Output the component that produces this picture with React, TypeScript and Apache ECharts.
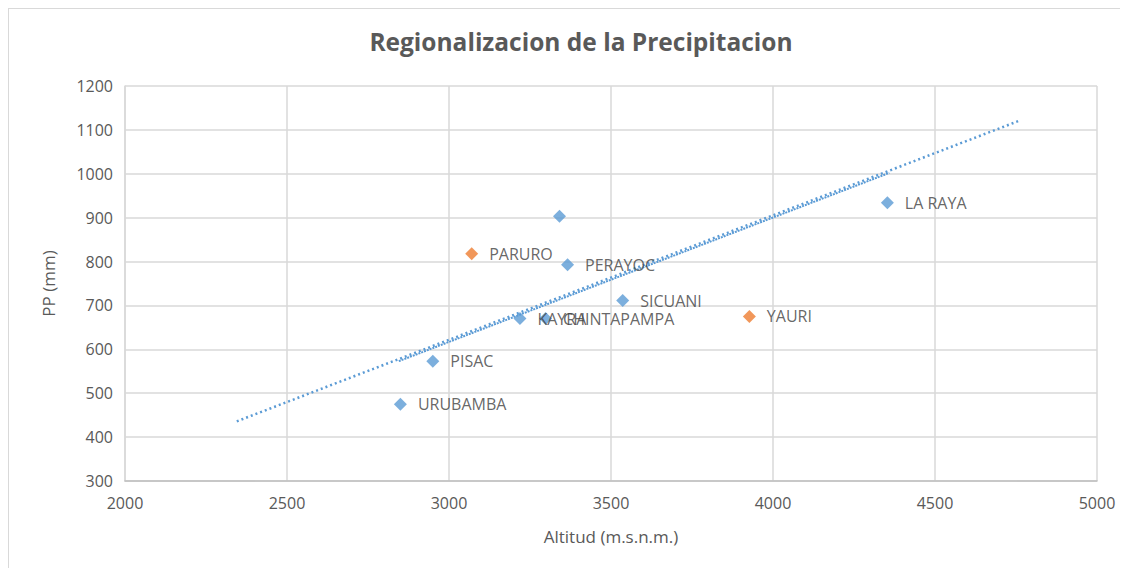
import React, { useEffect, useRef } from "react";
import * as echarts from "echarts";

const blueNames = ["URUBAMBA", "PISAC", "KAYRA", "CHINTAPAMPA", "", "PERAYOC", "SICUANI", "LA RAYA"];
const blueAlt = [2850, 2950, 3219, 3298, 3341, 3366, 3536, 4353];
const bluePP = [475, 573, 670, 670, 903, 793, 711, 934];

const orangeNames = ["PARURO", "YAURI"];
const orangeAlt = [3070, 3927];
const orangePP = [818, 675];

const trendAlt = [2345, 4757];
const trendPP = [436, 1120];
const trendCoreAlt = [2845, 4359];
const trendCorePP = [573, 1002];

const xTicks = { min: 2000, max: 5000, interval: 500 };
const yTicks = { min: 300, max: 1200, interval: 100 };

const FONT = "'Open Sans', 'Noto Sans', sans-serif";

export default function App() {
  const ref = useRef<HTMLDivElement>(null);
  useEffect(() => {
    if (!ref.current) return;
    const chart = echarts.init(ref.current, null, { renderer: "svg" });
    const label = {
      show: true,
      position: "right" as const,
      distance: 11,
      formatter: (p: any) => p.data.name,
      color: "#404040",
      fontSize: 16,
      lineHeight: 16,
      fontFamily: FONT,
    };
    chart.setOption({
      animation: false,
      backgroundColor: "#ffffff",
      title: {
        text: "Regionalizacion de la Precipitacion",
        left: 567,
        top: 15,
        textAlign: "center",
        textStyle: { color: "#595959", fontSize: 24.5, fontWeight: "bold", fontFamily: FONT },
      },
      grid: { left: 116, right: 31, top: 77, bottom: 87 },
      xAxis: {
        type: "value",
        min: xTicks.min,
        max: xTicks.max,
        interval: xTicks.interval,
        name: "Altitud (m.s.n.m.)",
        nameLocation: "middle",
        nameGap: 47,
        nameTextStyle: { color: "#595959", fontSize: 17, fontFamily: FONT },
        axisLine: { show: true, lineStyle: { color: "#bfbfbf", width: 1.5 } },
        axisTick: { show: false },
        axisLabel: { color: "#595959", fontSize: 16, fontFamily: FONT, margin: 14, formatter: (v: number) => String(v) },
        splitLine: { show: true, lineStyle: { color: "#d9d9d9", width: 1.5 } },
      },
      yAxis: {
        type: "value",
        min: yTicks.min,
        max: yTicks.max,
        interval: yTicks.interval,
        name: "PP (mm)",
        nameLocation: "middle",
        nameGap: 68,
        nameTextStyle: { color: "#595959", fontSize: 17, fontFamily: FONT },
        axisLine: { show: true, lineStyle: { color: "#d9d9d9", width: 1.5 } },
        axisTick: { show: false },
        axisLabel: { color: "#595959", fontSize: 16, fontFamily: FONT, margin: 12, formatter: (v: number) => String(v) },
        splitLine: { show: true, lineStyle: { color: "#d9d9d9", width: 1.5 } },
      },
      series: [
        {
          type: "line",
          data: trendAlt.map((x, i) => [x, trendPP[i]]),
          showSymbol: false,
          lineStyle: { color: "#5B9BD5", width: 2.5, type: [2, 3] },
          z: 1,
        },
        {
          type: "line",
          data: trendCoreAlt.map((x, i) => [x, trendCorePP[i]]),
          showSymbol: false,
          lineStyle: { color: "#5B9BD5", width: 2, type: [2, 1] },
          z: 1,
        },
        {
          type: "scatter",
          symbol: "diamond",
          symbolSize: 13,
          itemStyle: { color: "#5B9BD5" },
          label,
          data: blueAlt.map((x, i) => ({ value: [x, bluePP[i]], name: blueNames[i] })),
          z: 3,
        },
        {
          type: "scatter",
          symbol: "diamond",
          symbolSize: 13,
          itemStyle: { color: "#ED7D31" },
          label,
          data: orangeAlt.map((x, i) => ({ value: [x, orangePP[i]], name: orangeNames[i] })),
          z: 3,
        },
      ],
    });
    return () => chart.dispose();
  }, []);
  return (
    <div
      ref={ref}
      style={{
        width: 1120,
        height: 560,
        boxSizing: "border-box",
        borderLeft: "1px solid #d9d9d9",
        borderTop: "1px solid #d9d9d9",
      }}
    />
  );
}
